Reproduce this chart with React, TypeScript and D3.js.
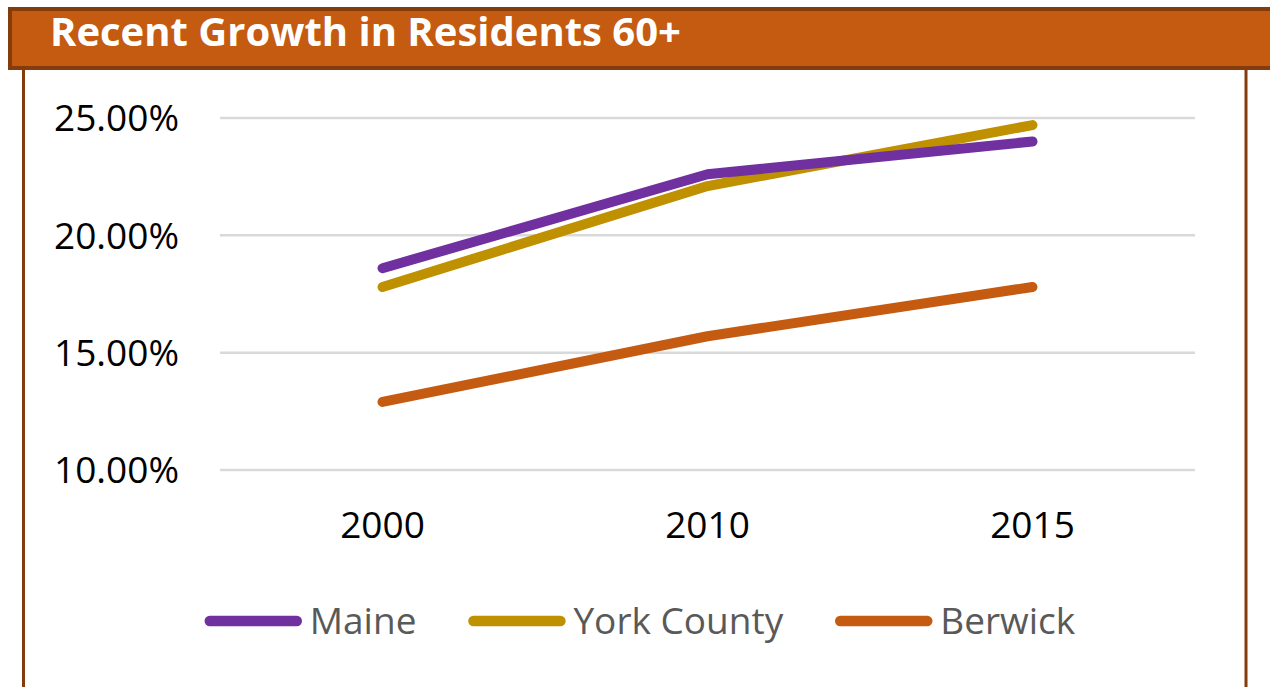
import { useEffect, useRef } from 'react';
import * as d3 from 'd3';

const years = ['2000', '2010', '2015'];
const maine = [18.6, 22.6, 24.0];
const yorkCounty = [17.8, 22.1, 24.7];
const berwick = [12.9, 15.7, 17.8];
const yTicks = [10, 15, 20, 25];

const seriesNames = ['Maine', 'York County', 'Berwick'];
const seriesColors = ['#7030A0', '#BF9000', '#C55A11'];

export default function App() {
  const svgRef = useRef<SVGSVGElement>(null);

  useEffect(() => {
    document.body.style.margin = '0';
    const width = 1270;
    const height = 687;
    const font = "'Open Sans', 'Noto Sans', sans-serif";

    const svg = d3.select(svgRef.current).attr('width', width).attr('height', height);
    svg.selectAll('*').remove();

    svg.append('rect').attr('width', width).attr('height', height).attr('fill', '#FFFFFF');

    // frame: side borders below the title bar
    svg.append('line')
      .attr('x1', 23.5).attr('x2', 23.5).attr('y1', 68).attr('y2', height)
      .attr('stroke', '#843C0C').attr('stroke-width', 3);
    svg.append('line')
      .attr('x1', 1246).attr('x2', 1246).attr('y1', 68).attr('y2', height)
      .attr('stroke', '#843C0C').attr('stroke-width', 3);

    // title bar
    svg.append('rect')
      .attr('x', 10).attr('y', 9).attr('width', 1275).attr('height', 59)
      .attr('fill', '#C55A11').attr('stroke', '#843C0C').attr('stroke-width', 4);
    svg.append('text')
      .attr('x', 50).attr('y', 46)
      .attr('font-family', font).attr('font-weight', 700).attr('font-size', 40)
      .attr('fill', '#FFFFFF')
      .text('Recent Growth in Residents 60+');

    const x = d3.scalePoint<string>().domain(years).range([220, 1195]).padding(0.5);
    const y = d3.scaleLinear().domain([10, 25]).range([470, 118]);

    // gridlines
    svg.append('g').selectAll('line').data(yTicks).enter().append('line')
      .attr('x1', 220).attr('x2', 1195)
      .attr('y1', d => y(d)).attr('y2', d => y(d))
      .attr('stroke', '#D9D9D9').attr('stroke-width', 2.5);

    // y labels
    svg.append('g').selectAll('text').data(yTicks).enter().append('text')
      .attr('x', 179).attr('y', d => y(d))
      .attr('dy', '0.36em')
      .attr('text-anchor', 'end')
      .attr('font-family', font).attr('font-size', 37)
      .attr('fill', '#000000')
      .text(d => d.toFixed(2) + '%');

    // x labels
    svg.append('g').selectAll('text').data(years).enter().append('text')
      .attr('x', d => x(d) as number).attr('y', 538)
      .attr('text-anchor', 'middle')
      .attr('font-family', font).attr('font-size', 37)
      .attr('fill', '#000000')
      .text(d => d);

    const series = [maine, yorkCounty, berwick];
    const line = d3.line<number>()
      .x((_, i) => x(years[i]) as number)
      .y(d => y(d));

    // draw Berwick first, then York, then Maine on top where they cross
    [2, 1, 0].forEach(si => {
      svg.append('path')
        .datum(series[si])
        .attr('d', line)
        .attr('fill', 'none')
        .attr('stroke', seriesColors[si])
        .attr('stroke-width', 10)
        .attr('stroke-linecap', 'round')
        .attr('stroke-linejoin', 'round');
    });

    // legend, measured then centered
    const legend = svg.append('g');
    const sampleLen = 97;
    const textGap = 8;
    const itemGap = 52;
    let cursor = 0;
    seriesNames.forEach((name, i) => {
      const item = legend.append('g').attr('transform', `translate(${cursor},0)`);
      item.append('line')
        .attr('x1', 5).attr('x2', sampleLen - 5).attr('y1', 0).attr('y2', 0)
        .attr('stroke', seriesColors[i]).attr('stroke-width', 10.5)
        .attr('stroke-linecap', 'round');
      const t = item.append('text')
        .attr('x', sampleLen + textGap).attr('y', 0).attr('dy', '0.36em')
        .attr('font-family', font).attr('font-size', 37)
        .attr('fill', '#595959')
        .text(name);
      const w = (t.node() as SVGTextElement).getComputedTextLength();
      cursor += sampleLen + textGap + w + itemGap;
    });
    const total = cursor - itemGap;
    legend.attr('transform', `translate(${640 - total / 2},621)`);
  }, []);

  return <svg ref={svgRef} style={{ display: 'block' }} />;
}
